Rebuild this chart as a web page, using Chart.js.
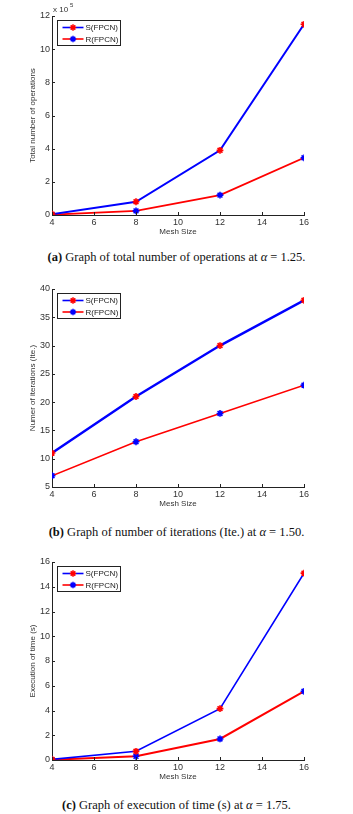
<!DOCTYPE html>
<html>
<head>
<meta charset="utf-8">
<script src="https://cdn.jsdelivr.net/npm/chart.js@4.4.0/dist/chart.umd.min.js"></script>
<style>
  body { margin: 0; background: #fff; width: 353px; height: 814px; overflow: hidden; position: relative; }
  .panel { position: absolute; left: 0; width: 353px; height: 240px; }
  .cap {
    position: absolute; left: 0; width: 353px; text-align: center;
    font-family: "Liberation Serif", "DejaVu Serif", serif; font-size: 12.5px; color: #111;
  }
</style>
</head>
<body>
<div class="panel" style="top:0"><canvas id="opsChart"></canvas></div>
<div class="cap" style="top:250px"><b>(a)</b> Graph of total number of operations at <i>α</i> = 1.25.</div>
<div class="panel" style="top:272px"><canvas id="iterChart"></canvas></div>
<div class="cap" style="top:525px"><b>(b)</b> Graph of number of iterations (Ite.) at <i>α</i> = 1.50.</div>
<div class="panel" style="top:545px"><canvas id="timeChart"></canvas></div>
<div class="cap" style="top:798px"><b>(c)</b> Graph of execution of time (s) at <i>α</i> = 1.75.</div>
<script>
// data
const meshSizes = [4, 8, 12, 16]
const seriesNames = ['S(FPCN)', 'R(FPCN)']
// total operations, in units of 10^5
const opsS = [0.05, 0.8, 3.9, 11.5]
const opsR = [0.02, 0.25, 1.2, 3.45]
// iterations
const iterS = [11, 21, 30, 38]
const iterR = [7, 13, 18, 23]
// execution time (s)
const timeS = [0.05, 0.7, 4.15, 15.1]
const timeR = [0.02, 0.3, 1.7, 5.55]
// axis ticks
const meshTicks = [4, 6, 8, 10, 12, 14, 16]
const opsTicks = [0, 2, 4, 6, 8, 10, 12]
const iterTicks = [5, 10, 15, 20, 25, 30, 35, 40]
const timeTicks = [0, 2, 4, 6, 8, 10, 12, 14, 16]

const BLUE = '#0000ff', RED = '#ff0000'
const sans = '"Liberation Sans", Arial, sans-serif'

// matlab style: inward ticks, boxed legend, exponent label
const matlabLook = {
  id: 'matlabLook',
  afterDatasetsDraw(chart, args, opts) {
    const ctx = chart.ctx, a = chart.chartArea
    const xs = chart.scales.x, ys = chart.scales.y
    ctx.save()
    ctx.strokeStyle = '#222'
    ctx.lineWidth = 1
    ctx.beginPath()
    xs.ticks.forEach(t => {
      const px = Math.round(xs.getPixelForValue(t.value)) + 0.5
      ctx.moveTo(px, a.bottom); ctx.lineTo(px, a.bottom - 3)
    })
    ys.ticks.forEach(t => {
      const py = Math.round(ys.getPixelForValue(t.value)) + 0.5
      ctx.moveTo(a.left, py); ctx.lineTo(a.left + 3, py)
    })
    ctx.stroke()

    // legend box
    const bx = Math.round(a.left) + 5.5, by = Math.round(a.top) + 4.5, bw = 63, bh = 25
    ctx.fillStyle = '#fff'
    ctx.fillRect(bx, by, bw, bh)
    ctx.strokeStyle = '#222'
    ctx.strokeRect(bx, by, bw, bh)
    ctx.font = '8px ' + sans
    ctx.textBaseline = 'middle'
    chart.data.datasets.forEach((ds, i) => {
      const y = by + 7 + i * 11.5
      ctx.strokeStyle = ds.borderColor
      ctx.lineWidth = 1.6
      ctx.beginPath(); ctx.moveTo(bx + 5, y); ctx.lineTo(bx + 26, y); ctx.stroke()
      ctx.strokeStyle = ds.pointBorderColor
      ctx.fillStyle = ds.pointBorderColor
      ctx.lineWidth = 1.5
      Chart.helpers.drawPoint(ctx, {pointStyle: 'star', radius: 3.2, borderWidth: 1.5, rotation: 0},
        bx + 15.5, y)
      ctx.fillStyle = '#222'
      ctx.fillText(ds.label, bx + 28, y + 0.5)
    })

    if (opts.exponent) {
      ctx.fillStyle = '#333'
      ctx.font = '8px ' + sans
      ctx.textBaseline = 'alphabetic'
      ctx.fillText('x 10', a.left + 1, a.top - 4)
      ctx.font = '6px ' + sans
      ctx.fillText(opts.exponent, a.left + 18, a.top - 9)
    }
    ctx.restore()
  }
}

function makeChart(id, sVals, rVals, yTicks, yTitle, geo, opts = {}) {
  const sets = [[sVals, BLUE, RED, geo.sWidth], [rVals, RED, BLUE, geo.rWidth]]
  return new Chart(document.getElementById(id), {
    type: 'line',
    data: {
      datasets: sets.map(([vals, line, mark, w], i) => ({
        label: seriesNames[i],
        data: meshSizes.map((m, k) => ({x: m, y: vals[k]})),
        borderColor: line,
        borderWidth: w,
        pointStyle: 'star',
        pointRadius: 3.4,
        pointBorderWidth: 1.6,
        pointBorderColor: mark,
        pointBackgroundColor: mark,
        tension: 0
      }))
    },
    options: {
      responsive: true,
      maintainAspectRatio: false,
      animation: false,
      events: [],
      layout: {padding: {left: 28, right: 49, top: geo.padTop, bottom: geo.padBottom}},
      plugins: {legend: {display: false}, tooltip: {enabled: false}, matlabLook: {exponent: opts.exponent}},
      scales: {
        x: {
          type: 'linear',
          min: meshTicks[0], max: meshTicks[meshTicks.length - 1],
          afterBuildTicks: s => { s.ticks = meshTicks.map(v => ({value: v})) },
          afterFit: s => { s.height = 22 },
          grid: {drawOnChartArea: false, drawTicks: false},
          border: {display: true, color: '#222', width: 1},
          ticks: {font: {family: sans, size: 9}, color: '#333', padding: 2, maxRotation: 0},
          title: {display: true, text: 'Mesh Size', font: {family: sans, size: 8}, color: '#333', padding: 0}
        },
        y: {
          min: yTicks[0], max: yTicks[yTicks.length - 1],
          afterBuildTicks: s => { s.ticks = yTicks.map(v => ({value: v})) },
          afterFit: s => { s.width = 24 },
          grid: {drawOnChartArea: false, drawTicks: false},
          border: {display: true, color: '#222', width: 1},
          ticks: {font: {family: sans, size: 9}, color: '#333', padding: 2},
          title: {display: true, text: yTitle, font: {family: sans, size: 8}, color: '#333', padding: 0}
        }
      }
    },
    plugins: [matlabLook]
  })
}

makeChart('opsChart', opsS, opsR, opsTicks, 'Total number of operations',
  {padTop: 16, padBottom: 3, sWidth: 2, rWidth: 1.8}, {exponent: '5'})
makeChart('iterChart', iterS, iterR, iterTicks, 'Numer of iterations (Ite.)',
  {padTop: 17, padBottom: 3, sWidth: 2.4, rWidth: 1.5})
makeChart('timeChart', timeS, timeR, timeTicks, 'Execution of time (s)',
  {padTop: 17, padBottom: 3, sWidth: 1.6, rWidth: 2})
</script>
</body>
</html>
